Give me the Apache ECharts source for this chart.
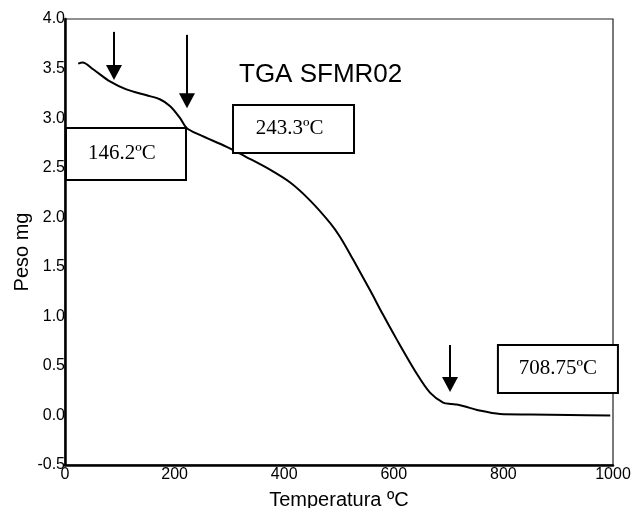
<!DOCTYPE html>
<html>
<head>
<meta charset="utf-8">
<title>TGA SFMR02</title>
<script src="https://cdn.jsdelivr.net/npm/echarts@6/dist/echarts.min.js"></script>
<style>
  html, body { margin: 0; padding: 0; background: #fff; }
  #chart { width: 632px; height: 508px; }
</style>
</head>
<body>
<div id="chart"></div>
<script>
// Thermogravimetric curve: temperature (ºC) and sample weight (mg)
const temperature = [24, 32, 52, 82, 112, 149, 173, 192, 210, 222, 246, 295, 330, 374, 411, 447, 484, 502, 526, 557, 580, 605, 642, 666, 690, 705, 715, 730, 752, 794, 850, 920, 995];
const weight      = [3.55, 3.56, 3.49, 3.37, 3.29, 3.23, 3.19, 3.12, 3.00, 2.90, 2.83, 2.71, 2.61, 2.48, 2.35, 2.17, 1.94, 1.80, 1.57, 1.26, 1.02, 0.77, 0.42, 0.23, 0.13, 0.115, 0.11, 0.09, 0.055, 0.015, 0.01, 0.005, 0.0];

// Axis ticks
const xTicks = [0, 200, 400, 600, 800, 1000];
const yTicks = [-0.5, 0.0, 0.5, 1.0, 1.5, 2.0, 2.5, 3.0, 3.5, 4.0];

// Event markers: arrow x, arrow top, arrow tip (data units)
const arrowX    = [89.4, 222.6, 702.6];
const arrowTop  = [3.87, 3.84, 0.711];
const arrowTip  = [3.385, 3.10, 0.237];

// Annotation labels and their boxes (data units)
const boxLabels = ['146.2ºC', '243.3ºC', '708.75ºC'];
const boxX0 = [1.8, 306.6, 790];
const boxX1 = [220.8, 527.4, 1009];
const boxY0 = [2.901, 3.133, 0.711];
const boxY1 = [2.376, 2.648, 0.227];

const chart = echarts.init(document.getElementById('chart'), null, { renderer: 'canvas' });

const sans = 'Arial, "Liberation Sans", sans-serif';
const serif = '"Times New Roman", "Liberation Serif", serif';

chart.setOption({
  animation: false,
  backgroundColor: '#fff',
  title: {
    text: 'TGA SFMR02',
    left: 239,
    top: 62,
    padding: 0,
    textStyle: { fontFamily: sans, fontSize: 26, fontWeight: 'normal', color: '#000' }
  },
  grid: {
    left: 65, right: 19, top: 19, bottom: 43,
    outerBoundsMode: 'none',
    containLabel: false,
    show: true, borderColor: '#222', borderWidth: 1.2, backgroundColor: 'transparent'
  },
  xAxis: {
    type: 'value',
    min: xTicks[0], max: xTicks[xTicks.length - 1], interval: 200,
    name: 'Temperatura ºC',
    nameLocation: 'middle',
    nameGap: 25,
    nameTextStyle: { fontFamily: sans, fontSize: 20, color: '#000' },
    axisLine: { show: true, onZero: false, lineStyle: { color: '#000', width: 2.5 } },
    axisTick: { show: false },
    splitLine: { show: false },
    axisLabel: {
      margin: 2, fontFamily: sans, fontSize: 16, color: '#000',
      formatter: v => String(v)
    }
  },
  yAxis: {
    type: 'value',
    min: yTicks[0], max: yTicks[yTicks.length - 1], interval: 0.5,
    name: 'Peso mg',
    nameLocation: 'middle',
    nameGap: 33,
    nameMoveOverlap: false,
    nameTextStyle: { fontFamily: sans, fontSize: 20, color: '#000', padding: [0, 20, 0, 0] },
    axisLine: { show: true, onZero: false, lineStyle: { color: '#000', width: 2.5 } },
    axisTick: { show: false },
    splitLine: { show: false },
    axisLabel: {
      margin: 0, fontFamily: sans, fontSize: 16, color: '#000',
      formatter: v => v.toFixed(1)
    }
  },
  series: [{
    type: 'line',
    data: temperature.map((t, i) => [t, weight[i]]),
    showSymbol: false,
    smooth: 0.3,
    lineStyle: { color: '#000', width: 2 },
    z: 2
  }]
});

// Arrows and labelled boxes, placed through the axis scales
function drawAnnotations() {
  const toPx = p => chart.convertToPixel({ xAxisIndex: 0, yAxisIndex: 0 }, p);
  const elements = [];
  const headW = 16, headH = 15;
  arrowX.forEach((x, i) => {
    const top = toPx([x, arrowTop[i]]);
    const tip = toPx([x, arrowTip[i]]);
    elements.push({
      type: 'line', z: 10,
      shape: { x1: top[0], y1: top[1], x2: tip[0], y2: tip[1] - headH + 1 },
      style: { stroke: '#000', lineWidth: 2 }
    });
    elements.push({
      type: 'polygon', z: 10,
      shape: { points: [[tip[0] - headW / 2, tip[1] - headH], [tip[0] + headW / 2, tip[1] - headH], [tip[0], tip[1]]] },
      style: { fill: '#000' }
    });
  });
  boxLabels.forEach((label, i) => {
    const a = toPx([boxX0[i], boxY0[i]]);
    const b = toPx([boxX1[i], boxY1[i]]);
    elements.push({
      type: 'rect', z: 20,
      shape: { x: a[0], y: a[1], width: b[0] - a[0], height: b[1] - a[1] },
      style: { fill: '#fff', stroke: '#000', lineWidth: 2 }
    });
    elements.push({
      type: 'text', z: 21,
      x: (a[0] + b[0]) / 2 - (i < 2 ? 4 : 0),
      y: (a[1] + b[1]) / 2,
      style: {
        text: label, fill: '#000', font: '21px ' + serif,
        align: 'center', verticalAlign: 'middle'
      }
    });
  });
  chart.setOption({ graphic: elements });
}
drawAnnotations();
</script>
</body>
</html>
